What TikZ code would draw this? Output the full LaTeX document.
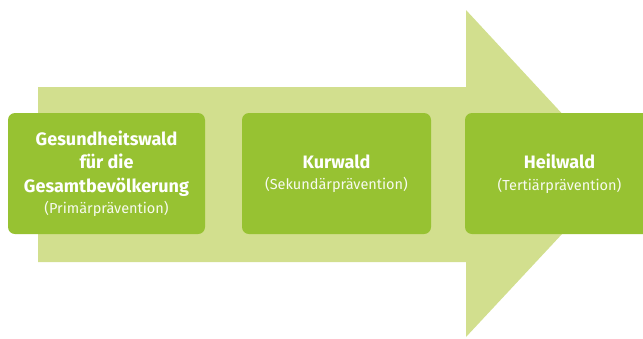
\documentclass[tikz,border=0pt]{standalone}
\usepackage{fontspec}
\setmainfont{Fira Sans}
\usepackage{tikz}
\usetikzlibrary{calc,shapes}

\definecolor{hellgruen}{RGB}{210,223,142}
\definecolor{gruen}{RGB}{151,194,50}
\newcommand{\praev}[1]{{\fontsize{14.5}{18}\selectfont\color{white!92!gruen}#1}}

\tikzset{
  stufe/.style={fill=gruen,rounded corners=7pt,text=white,align=center,
    minimum height=121pt,inner sep=0pt,font=\fontsize{18}{23.5}\selectfont}
}

\begin{document}
\begin{tikzpicture}[x=1pt,y=-1pt]
\useasboundingbox (0,0) rectangle (643,338);
\clip (0,0) rectangle (643,338);
			% Pfeil
\fill [hellgruen] (38,87) -- (466,87) -- (466,10) -- (618,174) -- (466,337) -- (466,262) -- (38,262) -- cycle;
			% Stufen
\node [stufe,minimum width=197pt] (gesund) at (106.5,173.5) {\textbf{Gesundheitswald}\\\textbf{für die}\\\textbf{Gesamtbevölkerung}\\[-2pt]\praev{(Primärprävention)}};
\node [stufe,minimum width=189pt] (kur) at (336.5,173.5) {\textbf{Kurwald}\\[-2pt]\praev{(Sekundärprävention)}};
\node [stufe,minimum width=189pt] (heil) at (559.5,173.5) {\textbf{Heilwald}\\[-2pt]\praev{(Tertiärprävention)}};
			\end{tikzpicture}
\end{document}
